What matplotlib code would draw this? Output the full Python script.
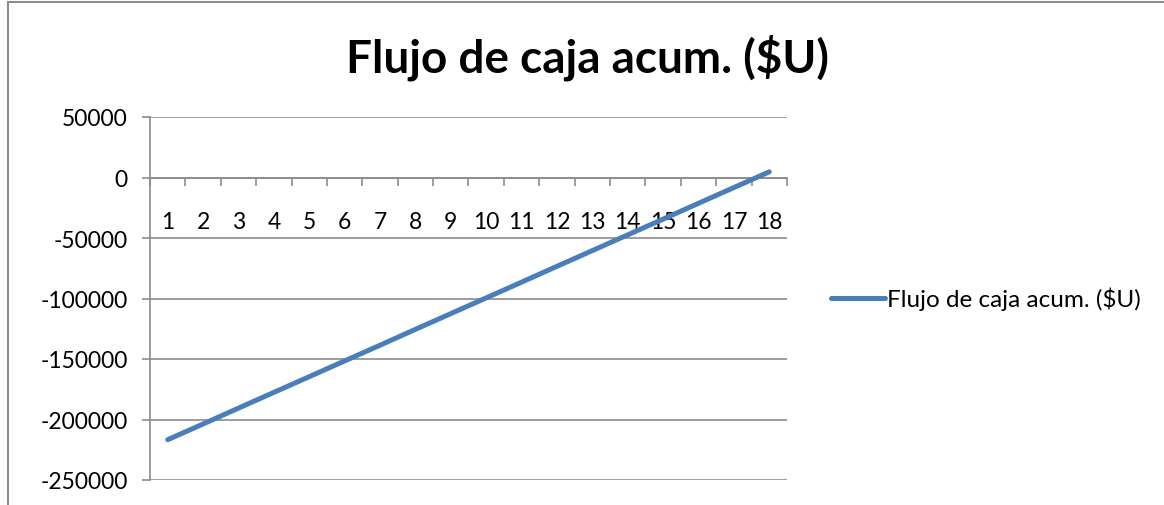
import matplotlib.pyplot as plt
from matplotlib.patches import Rectangle

# datos del grafico
periodos = list(range(1, 19))
flujo_acum = [-216700, -203700, -190600, -177600, -164600, -151600, -138600,
              -125500, -112500, -99500, -86500, -73400, -60400, -47400,
              -34400, -21300, -8300, 4700]
y_ticks = [50000, 0, -50000, -100000, -150000, -200000, -250000]
titulo = 'Flujo de caja acum. ($U)'

plt.rcParams['font.family'] = ['Lato', 'DejaVu Sans']

W, H = 1164, 506
fig = plt.figure(figsize=(W / 100, H / 100), dpi=100)
fig.patches.append(Rectangle((8 / W, -0.01), 1.2, 1 - 3 / H - (-0.01), transform=fig.transFigure,
                             fill=False, edgecolor='#8c8c8c', linewidth=1.5))

ax = fig.add_axes([150 / W, 1 - 481 / H, (787 - 150) / W, (481 - 118) / H])
ax.plot(periodos, flujo_acum, color='#4a7ebb', linewidth=3.6, solid_capstyle='round',
        label=titulo, zorder=3)

ax.set_xlim(0.5, 18.5)
ax.set_ylim(-250000, 50000)
ax.set_yticks(y_ticks)
ax.set_yticklabels([str(v) for v in y_ticks])
ax.yaxis.grid(True, color='#8c8c8c', linewidth=1.2)
ax.tick_params(axis='y', length=6, color='#8c8c8c', width=1.2, labelsize=16.5, pad=10)

# eje x cruzando en 0
for s in ['top', 'right']:
    ax.spines[s].set_visible(False)
ax.spines['bottom'].set_position(('data', 0))
ax.spines['bottom'].set_color('#8c8c8c')
ax.spines['bottom'].set_linewidth(1.2)
ax.spines['left'].set_color('#8c8c8c')
ax.spines['left'].set_linewidth(1.2)
ax.set_xticks(periodos)
ax.set_xticklabels([str(p) for p in periodos])
ax.set_xticks([p + 0.5 for p in [0] + periodos], minor=True)
ax.tick_params(axis='x', which='major', length=0, labelsize=16.5, pad=24)
ax.tick_params(axis='x', which='minor', length=6, color='#8c8c8c', width=1.2)
ax.set_axisbelow(True)

fig.text(587 / W, 1 - 58 / H, titulo, ha='center', va='center', fontsize=33, fontweight='bold')

ax.legend(loc='center left', bbox_to_anchor=(1.035, 0.5), frameon=False, fontsize=17.5,
          handlelength=2.2, handletextpad=0.1)

fig.savefig('out.png', dpi=100)
